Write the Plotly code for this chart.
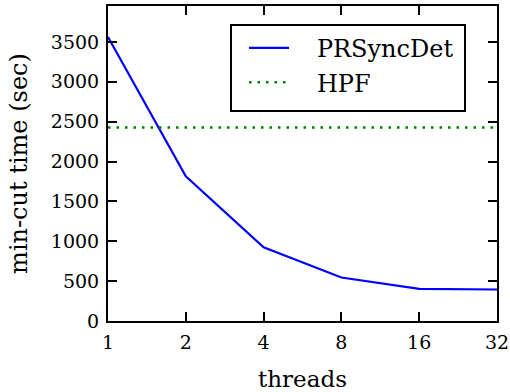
import plotly.graph_objects as go

threads = [1, 2, 4, 8, 16, 32]
prsyncdet = [3560, 1815, 925, 545, 402, 395]
hpf_value = 2425
hpf = [hpf_value] * len(threads)
x_ticks = [1, 2, 4, 8, 16, 32]
y_ticks = [0, 500, 1000, 1500, 2000, 2500, 3000, 3500]
series_names = ["PRSyncDet", "HPF"]

font_family = "DejaVu Serif, serif"
pad = "\u00a0\u00a0\u00a0"

fig = go.Figure()
fig.add_trace(go.Scatter(x=threads, y=prsyncdet, mode="lines", name=pad + series_names[0],
                         line=dict(color="#0000ff", width=2.2)))
fig.add_trace(go.Scatter(x=threads, y=hpf, mode="lines", name=pad + series_names[1],
                         line=dict(color="#008000", width=2.5, dash="2.5px,6px")))

axis_common = dict(showline=True, linecolor="black", linewidth=2, mirror="ticks",
                   ticks="inside", ticklen=9, tickwidth=1.5, tickcolor="black",
                   showgrid=False, zeroline=False, automargin=False,
                   ticklabelstandoff=3,
                   tickfont=dict(family=font_family, size=19, color="black"))

fig.update_xaxes(type="log", tickvals=x_ticks, ticktext=[str(v) for v in x_ticks],
                 range=[0, 1.50515],
                 title=dict(text="threads", font=dict(family=font_family, size=23, color="black"), standoff=20),
                 **axis_common)
fig.update_yaxes(range=[0, 3950], tickvals=y_ticks, ticktext=[str(v) for v in y_ticks],
                 title=dict(text="min-cut time (sec)", font=dict(family=font_family, size=24, color="black"), standoff=16),
                 **axis_common)

# legend frame (pixel box 231..465 x 25..111 inside plot area 108..497 x 6..321)
fig.add_shape(type="rect", xref="paper", yref="paper",
              x0=(231 - 108) / 389, x1=(465 - 108) / 389,
              y0=(321 - 111) / 315, y1=(321 - 25) / 315,
              line=dict(color="black", width=2), fillcolor="white", layer="below")

fig.update_layout(
    width=510, height=392,
    margin=dict(l=108, r=13, t=6, b=71),
    plot_bgcolor="white", paper_bgcolor="white",
    legend=dict(x=(244 - 108) / 389, y=0.937, xanchor="left", yanchor="top",
                borderwidth=0, bgcolor="rgba(0,0,0,0)",
                font=dict(family=font_family, size=24, color="black"),
                itemwidth=40),
    font=dict(family=font_family, color="black"),
)

fig.write_html("out.html", config={"displayModeBar": False},
               post_script="document.body.style.margin='0px';")
